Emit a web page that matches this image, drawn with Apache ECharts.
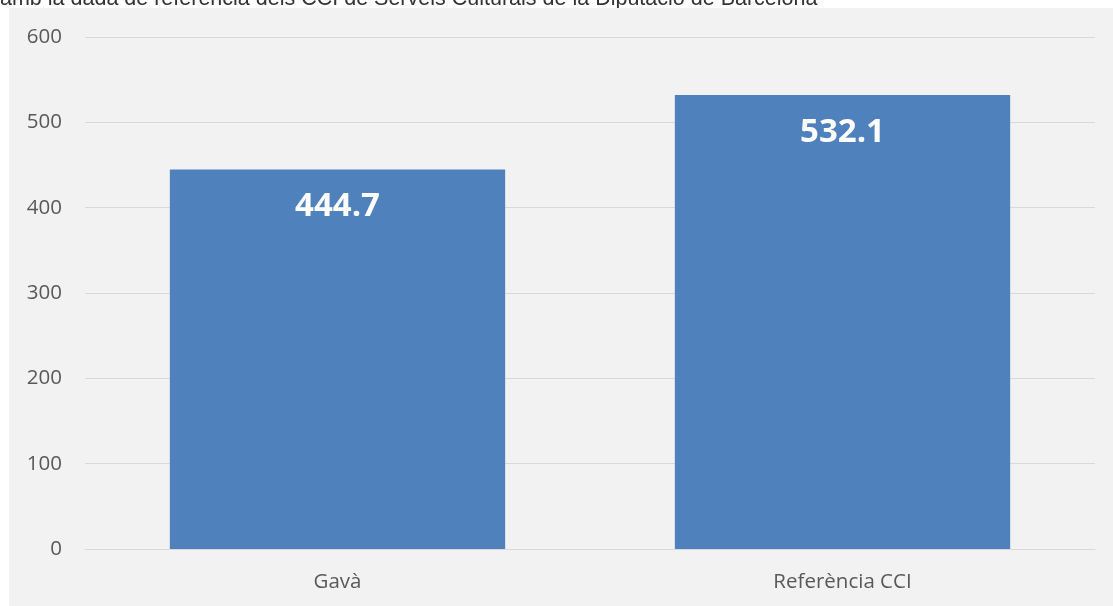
<!DOCTYPE html>
<html>
<head>
<meta charset="utf-8">
<script src="https://cdn.jsdelivr.net/npm/echarts@6/dist/echarts.min.js"></script>
<style>
  html, body { margin: 0; padding: 0; background: #ffffff; }
  #main { width: 1113px; height: 606px; }
</style>
</head>
<body>
<div id="main"></div>
<script>
// dades
const categories = ['Gavà', 'Referència CCI']
const values = [444.7, 532.1]
const yTicks = [0, 100, 200, 300, 400, 500, 600]
const subtitle = 'amb la dada de referència dels CCI de Serveis Culturals de la Diputació de Barcelona'

const chart = echarts.init(document.getElementById('main'))

const option = {
  backgroundColor: '#ffffff',
  animation: false,
  graphic: [
    {
      type: 'text',
      z: -20,
      style: {
        x: 0,
        y: 10,
        verticalAlign: 'bottom',
        text: subtitle,
        fill: '#333333',
        font: '21.5px "Liberation Sans", Arial, sans-serif'
      }
    },
    {
      type: 'rect',
      z: -10,
      shape: { x: 9, y: 8, width: 1104, height: 598 },
      style: { fill: '#f2f2f2' }
    }
  ],
  grid: {
    left: 85,
    right: 18,
    top: 37,
    bottom: 57
  },
  xAxis: {
    type: 'category',
    data: categories,
    axisLine: { show: true, lineStyle: { color: '#d9d9d9', width: 1 } },
    axisTick: { show: false },
    axisLabel: {
      color: '#595959',
      fontSize: 20.5,
      fontFamily: 'Open Sans',
      margin: 23
    }
  },
  yAxis: {
    type: 'value',
    min: yTicks[0],
    max: yTicks[yTicks.length - 1],
    interval: 100,
    axisLine: { show: false },
    axisTick: { show: false },
    splitLine: { lineStyle: { color: '#d9d9d9', width: 1 } },
    axisLabel: {
      color: '#595959',
      fontSize: 20.5,
      fontFamily: 'Open Sans',
      margin: 23
    }
  },
  series: [
    {
      type: 'bar',
      data: values,
      barWidth: '66.4%',
      itemStyle: { color: '#4f81bd' },
      label: {
        show: true,
        position: 'insideTop',
        distance: 21,
        color: '#ffffff',
        fontSize: 33,
        fontWeight: 'bold',
        fontFamily: 'Open Sans',
        formatter: p => p.value.toFixed(1)
      }
    }
  ]
}

chart.setOption(option)
</script>
</body>
</html>
